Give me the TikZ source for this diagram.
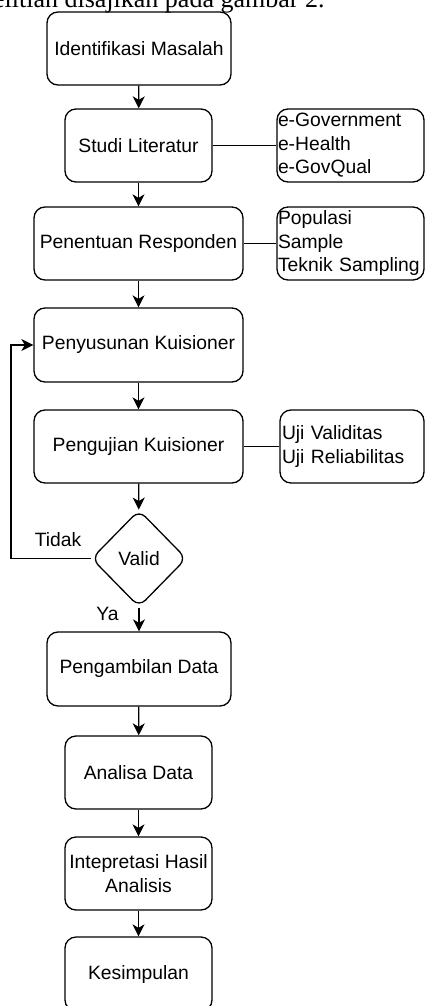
\documentclass[tikz,border=0pt]{standalone}
\usepackage{fontspec}
\setmainfont{Liberation Sans}
\newfontfamily\captionfont{Liberation Serif}
\usetikzlibrary{arrows.meta,positioning,shapes.geometric}

\begin{document}
\begin{tikzpicture}[x=1pt,y=-1pt,
  every node/.style={font=\fontsize{19.3}{23.5}\selectfont},
  stepbox/.style={draw,line width=1.3pt,rounded corners=11pt,minimum height=73pt,inner sep=0pt,align=center},
  notebox/.style={draw,line width=1.3pt,rounded corners=11pt,minimum height=73pt,inner xsep=1pt,inner ysep=0pt,align=left},
  flow/.style={line width=1.3pt,-{Stealth[length=12pt,width=12pt,inset=3.5pt]}},
  link/.style={line width=1.3pt}]
\useasboundingbox (0,0) rectangle (425,1006);
\clip (0,0) rectangle (425,1006);
\node[anchor=base east,font=\captionfont\fontsize{26}{30}\selectfont] (caption) at (328,8) {elitian disajikan pada gambar 2.};

\node[stepbox,minimum width=184pt] (ident) at (139,48.5) {Identifikasi Masalah};
\node[stepbox,minimum width=147pt] (studi) at (138.5,145.5) {Studi Literatur};
\node[notebox,minimum width=147pt,text width=145pt] (egov) at (350.5,145.5) {e-Government\\e-Health\\e-GovQual};
\node[stepbox,minimum width=209pt] (penentuan) at (138.5,243.5) {Penentuan Responden};
\node[notebox,minimum width=147pt,text width=145pt] (populasi) at (350.5,243.5) {Populasi\\Sample\\Teknik Sampling};
\node[stepbox,minimum width=209pt,minimum height=74pt] (penyusunan) at (138.5,345) {Penyusunan Kuisioner};
\node[stepbox,minimum width=209pt] (pengujian) at (138.5,446.5) {Pengujian Kuisioner};
\node[notebox,minimum width=144pt,text width=140pt,inner xsep=2pt] (uji) at (352,446.5) {Uji Validitas\\Uji Reliabilitas};
\node[draw,line width=1.3pt,diamond,rounded corners=9pt,minimum width=95pt,minimum height=97pt,inner sep=0pt] (valid) at (139,558.5) {Valid};
\node (tidak) at (58,540) {Tidak};
\node (ya) at (107.5,614) {Ya};
\node[stepbox,minimum width=184pt,minimum height=74pt] (pengambilan) at (139,669) {Pengambilan Data};
\node[stepbox,minimum width=147pt] (analisa) at (138.5,772.5) {Analisa Data};
\node[stepbox,minimum width=147pt] (intepretasi) at (138.5,873.5) {Intepretasi Hasil\\Analisis};
\node[stepbox,minimum width=147pt,minimum height=74pt] (kesimpulan) at (138.5,974) {Kesimpulan};
\coordinate (loop) at (11,558.5);

\draw[flow] (ident) -- (studi);
\draw[flow] (studi) -- (penentuan);
\draw[flow] (penentuan) -- (penyusunan);
\draw[flow] (penyusunan) -- (pengujian);
\draw[flow] (pengujian) -- (valid);
\draw[flow] (valid) -- (pengambilan);
\draw[flow] (pengambilan) -- (analisa);
\draw[flow] (analisa) -- (intepretasi);
\draw[flow] (intepretasi) -- (kesimpulan);
\draw[flow] (valid.west) -- (loop) |- (penyusunan.west);
\draw[link] (studi) -- (egov);
\draw[link] (penentuan) -- (populasi);
\draw[link] (pengujian) -- (uji);
\end{tikzpicture}
\end{document}
